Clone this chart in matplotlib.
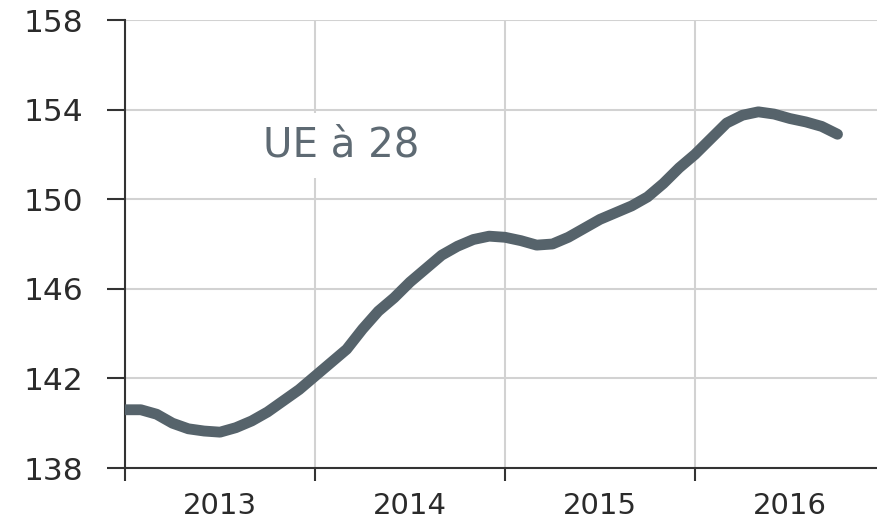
import numpy as np
import matplotlib
matplotlib.use('Agg')
import matplotlib.pyplot as plt

# Monthly index values, Jan 2013 onwards (UE à 28)
start_year = 2013
values = [140.6, 140.6, 140.4, 140.0, 139.75, 139.65, 139.6, 139.8, 140.1, 140.5,
          141.0, 141.5, 142.1, 142.7, 143.3, 144.2, 145.0, 145.6, 146.3, 146.9,
          147.5, 147.9, 148.2, 148.35, 148.3, 148.15, 147.95, 148.0, 148.3, 148.7,
          149.1, 149.4, 149.7, 150.1, 150.7, 151.4, 152.0, 152.7, 153.4, 153.75,
          153.9, 153.8, 153.6, 153.45, 153.25, 152.9]
years = [2013, 2014, 2015, 2016]
y_ticks = [138, 142, 146, 150, 154, 158]
label = 'UE à 28'

x = [start_year + i / 12 for i in range(len(values))]

fig = plt.figure(figsize=(8.78, 5.22), dpi=100)
ax = fig.add_axes([125 / 878, 1 - 468 / 522, 1 - 125 / 878, (468 - 20) / 522])

ax.plot(x, values, color='#56636b', linewidth=7.8, solid_capstyle='round', zorder=3)

ax.set_xlim(2013, 2013 + 753 / 190)
ax.set_ylim(138, 158)

ax.set_yticks(y_ticks)
ax.set_yticklabels([str(v) for v in y_ticks])
ax.set_xticks(years)
ax.set_xticklabels([])
ax.set_xticks([y + 0.5 for y in years], minor=True)
ax.set_xticklabels([str(y) for y in years], minor=True)

ax.tick_params(axis='y', length=13, width=1.5, color='#333333', pad=17,
               labelsize=22.5, labelcolor='#2b2b2b')
ax.tick_params(axis='x', which='major', length=9, width=1.5, color='#333333')
ax.tick_params(axis='x', which='minor', length=0, pad=17,
               labelsize=21, labelcolor='#2b2b2b')

ax.grid(True, which='major', color='#d2d2d2', linewidth=1.5)
ax.set_axisbelow(True)

for s in ['top', 'right']:
    ax.spines[s].set_visible(False)
for s in ['left', 'bottom']:
    ax.spines[s].set_color('#333333')
    ax.spines[s].set_linewidth(1.5)

ax.text(2014.14, 152.4, label, fontsize=29, color='#5e6a73', ha='center', va='center',
        bbox=dict(boxstyle='square,pad=0.3', facecolor='white', edgecolor='none'),
        zorder=2)

fig.savefig('out.png', dpi=100)
